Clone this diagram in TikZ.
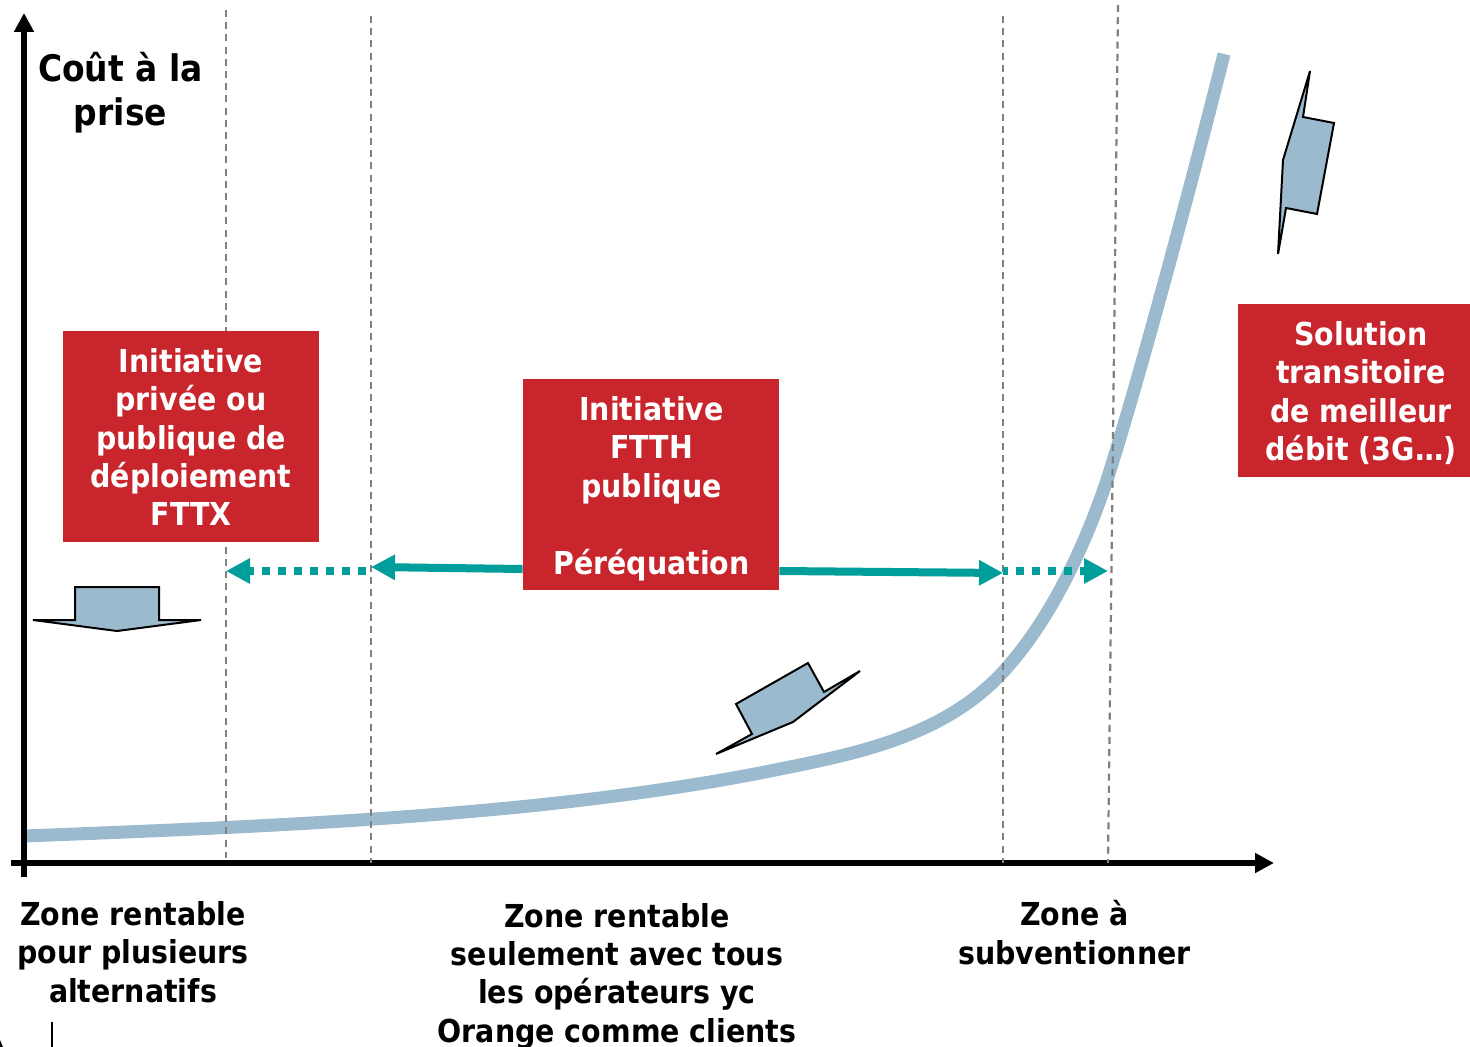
\documentclass[tikz,border=0pt]{standalone}
\usepackage{fontspec}
\setmainfont{DejaVu Sans}[BoldFeatures={FakeStretch=0.9}]
\usetikzlibrary{arrows.meta}
\definecolor{curveblue}{HTML}{9BBACE}
\definecolor{boxred}{HTML}{C9252C}
\definecolor{zoneteal}{HTML}{009E9A}
\begin{document}
\begin{tikzpicture}[x=0.5pt, y=-0.5pt,
        zoneline/.style={draw=gray, line width=1.1pt, dash pattern=on 3.5pt off 2.6pt},
        axisline/.style={line width=3pt, -{Triangle[length=9.5pt,width=9.5pt]}},
        reach/.style={color=zoneteal, line width=4pt, -{Triangle[length=12pt,width=12pt]}},
        reachdots/.style={reach, dash pattern=on 4pt off 4pt},
        bigarrow/.style={draw=black, fill=curveblue, line width=1pt, line join=miter},
        initbox/.style={fill=boxred, inner sep=0pt},
        boxtext/.style={text=white, font=\bfseries\fontsize{15.8}{19.2}\selectfont, align=center, inner sep=0pt},
        zonelabel/.style={font=\bfseries\fontsize{15.8}{19.2}\selectfont, align=center, inner sep=0pt}]
    \useasboundingbox (0,0) rectangle (1470,1047);
    % cost curve
    \draw[color=curveblue, line width=6.5pt] (24,836) .. controls (300,825.5) and (560,814) .. (780,769)
        .. controls (860,753) and (945,735) .. (1003,672) .. controls (1045,626) and (1080,560) .. (1107,480)
        .. controls (1142,370) and (1195,170) .. (1224,54);
    % axes
    \draw[axisline] (24,877) -- (24,13);
    \draw[axisline] (11,863) -- (1274,863);
    % zone limits
    \draw[zoneline] (226,10) -- (226,858);
    \draw[zoneline] (371,16) -- (371,863);
    \draw[zoneline] (1003,16) -- (1003,863);
    \draw[zoneline] (1118,5) -- (1108,863);
    \node[zonelabel, font=\bfseries\fontsize{18.3}{22}\selectfont] (title) at (120.5,93) {Coût à la\\prise};
    % boxes
    \node[initbox, minimum width=128pt, minimum height=105.5pt] (prive) at (191,436.5) {};
    \node[initbox, minimum width=128pt, minimum height=105.5pt] (ftth) at (651,484.5) {};
    \node[initbox, minimum width=123pt, minimum height=86.5pt] (transit) at (1361,390.5) {};
    \node[boxtext] (privetext) at (191,437) {Initiative\\privée ou\\publique de\\déploiement\\FTTX};
    \node[boxtext] (ftthtext) at (651.5,488.5) {Initiative\\FTTH\\publique\\[19.2pt]Péréquation};
    \node[boxtext] (transittext) at (1361,393) {Solution\\transitoire\\de meilleur\\débit (3G…)};
    % reach of the public initiative
    \coordinate (limA) at (226,571);
    \coordinate (limB) at (371,571);
    \coordinate (limBs) at (371,567);
    \coordinate (limC) at (1003,571);
    \coordinate (limCs) at (1003,573);
    \coordinate (limD) at (1108,571);
    \draw[reach] (ftth.west |- 0,569) -- (limBs);
    \draw[reach] (ftth.east |- 0,571) -- (limCs);
    \draw[reachdots, dash phase=5.5pt] (limB) -- (limA);
    \draw[reachdots, dash phase=1.5pt] (limC) -- (limD);
    % block arrows
    \draw[bigarrow] (33,620) -- (75,620) -- (75,587) -- (159,587) -- (159,620) -- (201,620) -- (117,631) -- cycle;
    \draw[bigarrow] (860,671) -- (824,692) -- (808,663) -- (736,704) -- (752,734) -- (716,754) -- (793,722) -- cycle;
    \draw[bigarrow] (1310,71) -- (1303,117) -- (1334,123) -- (1317,214) -- (1286,208) -- (1278,254) -- (1283,160) -- cycle;
    % zone labels
    \node[zonelabel] (zoneA) at (133,952) {Zone rentable\\pour plusieurs\\alternatifs};
    \node[zonelabel] (zoneB) at (617,976) {Zone rentable\\seulement avec tous\\les opérateurs yc\\Orange comme clients};
    \node[zonelabel] (zoneC) at (1074.5,932.5) {Zone à\\subventionner};
    % leftovers at the lower edge
    \draw[line width=1pt] (52,1022) -- (52,1047);
    \fill (0,1040) -- (3,1047) -- (0,1047) -- cycle;
\end{tikzpicture}
\end{document}
